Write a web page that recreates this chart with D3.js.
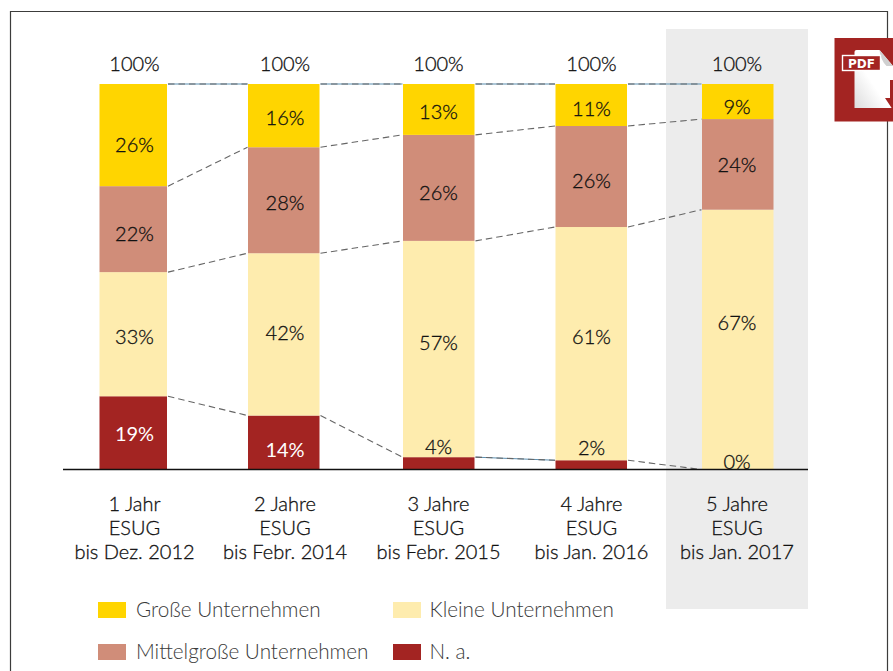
<!DOCTYPE html>
<html>
<head>
<meta charset="utf-8">
<script src="https://cdn.jsdelivr.net/npm/d3@7"></script>
<style>
  html, body { margin: 0; padding: 0; background: #fff; overflow: hidden; }
  svg { display: block; }
  text { font-family: Lato, sans-serif; }
  /* thin stroke because Lato Light is too pale and Regular too heavy */
  .val { font-size: 20px; font-weight: 300; fill: #111; stroke: #111; stroke-width: 0.3px; text-anchor: middle; }
  .tick-label { font-size: 20px; font-weight: 300; fill: #111; stroke: #111; stroke-width: 0.3px; text-anchor: middle; }
  .legend-label { font-size: 20.7px; fill: #3a3a3a; font-weight: 300; }
</style>
</head>
<body>
<div id="chart"></div>
<script>
const categories = ['1 Jahr', '2 Jahre', '3 Jahre', '4 Jahre', '5 Jahre'];
const subLabels = ['ESUG', 'ESUG', 'ESUG', 'ESUG', 'ESUG'];
const periods = ['bis Dez. 2012', 'bis Febr. 2014', 'bis Febr. 2015', 'bis Jan. 2016', 'bis Jan. 2017'];

// bar heights, they differ a bit from the printed labels
const grosse = [26.5, 16.4, 13.2, 10.9, 9.1];
const mittel = [22.3, 27.5, 27.5, 26.2, 23.5];
const kleine = [32.2, 42.1, 56.1, 60.5, 67.4];
const na = [19.0, 14.0, 3.2, 2.4, 0];

// printed labels
const grosseLabels = ['26%', '16%', '13%', '11%', '9%'];
const mittelLabels = ['22%', '28%', '26%', '26%', '24%'];
const kleineLabels = ['33%', '42%', '57%', '61%', '67%'];
const naLabels = ['19%', '14%', '4%', '2%', '0%'];
const totalLabels = ['100%', '100%', '100%', '100%', '100%'];

const seriesNames = ['Große Unternehmen', 'Mittelgroße Unternehmen', 'Kleine Unternehmen', 'N. a.'];

const width = 893, height = 671;

const seriesKeys = ['grosse', 'mittel', 'kleine', 'na'];
const colors = {grosse: '#ffd500', mittel: '#d08d79', kleine: '#feecae', na: '#a32422'};
const labelsByKey = {grosse: grosseLabels, mittel: mittelLabels, kleine: kleineLabels, na: naLabels};
const table = categories.map((c, i) => ({cat: c, grosse: grosse[i], mittel: mittel[i], kleine: kleine[i], na: na[i]}));

// label shift from the middle of its segment, px
const labelShift = {
  grosse: [10, 2.5, 2.5, 4, 5.5],
  mittel: [5, 3, 5, 4.5, 1],
  kleine: [3, -1, -6, -6.5, -17],
  na: [1.5, 7, -16, -17, -7.5]
};

// the bars are not evenly spaced in the original
const x = d3.scaleOrdinal().domain(categories).range([99.5, 248, 403, 555.5, 702]);
const barWidth = d3.scaleOrdinal().domain(categories).range([67.5, 71.5, 71.5, 71.5, 71.5]);
const labelX = d3.scaleOrdinal().domain(categories).range([134.5, 285, 438.5, 591.5, 737]);
const y = d3.scaleLinear().domain([0, 100]).range([469.5, 84]);

const stack = d3.stack().keys(seriesKeys.slice().reverse());
const stacked = stack(table);

const svg = d3.select('#chart').append('svg')
    .attr('width', width)
    .attr('height', height);

// outer frame, runs off the bottom of the page
svg.append('path')
    .attr('d', 'M10.5,671V11.5H887.5V671')
    .attr('fill', 'none')
    .attr('stroke', '#3c3c3b')
    .attr('stroke-width', 1.2);

// highlight behind the last year
svg.append('rect')
    .attr('x', 666).attr('y', 29)
    .attr('width', 142).attr('height', 580)
    .attr('fill', '#ececec');

// bars
const layers = svg.selectAll('.layer')
    .data(stacked)
  .join('g')
    .attr('class', 'layer')
    .attr('fill', d => colors[d.key]);

layers.selectAll('rect')
    .data(d => d)
  .join('rect')
    .attr('x', d => x(d.data.cat))
    .attr('width', d => barWidth(d.data.cat))
    .attr('y', d => y(d[1]))
    .attr('height', d => y(d[0]) - y(d[1]));

// dashed connectors between the segment tops
const connector = d3.line();
const blueUnder = {grosse: [0, 1, 2, 3], na: [2]};
stacked.forEach(layer => {
  d3.pairs(layer).forEach(([a, b], i) => {
    const pts = [
      [x(a.data.cat) + barWidth(a.data.cat) + 1, y(a[1])],
      [x(b.data.cat) - 0.5, y(b[1])]
    ];
    if ((blueUnder[layer.key] || []).includes(i)) {
      svg.append('path')
          .attr('d', connector(pts))
          .attr('fill', 'none')
          .attr('stroke', '#5b8fb0')
          .attr('stroke-width', 1);
    }
    svg.append('path')
        .attr('d', connector(pts))
        .attr('fill', 'none')
        .attr('stroke', '#666')
        .attr('stroke-width', 1.1)
        .attr('stroke-dasharray', '6.5,4');
  });
});

// baseline
svg.append('line')
    .attr('x1', 63).attr('x2', 808)
    .attr('y1', 469.5).attr('y2', 469.5)
    .attr('stroke', '#111')
    .attr('stroke-width', 1.4);

// value labels
stacked.forEach(layer => {
  svg.selectAll('.val-' + layer.key)
      .data(layer)
    .join('text')
      .attr('class', 'val val-' + layer.key)
      .attr('x', d => labelX(d.data.cat))
      .attr('y', (d, i) => (y(d[0]) + y(d[1])) / 2 + labelShift[layer.key][i])
      .attr('dy', '.35em')
      .style('fill', (d, i) => layer.key === 'na' && i < 2 ? '#fff' : null)
      .style('stroke', (d, i) => layer.key === 'na' && i < 2 ? 'none' : null)
      .style('font-weight', (d, i) => layer.key === 'na' && i < 2 ? 400 : null)
      .text((d, i) => labelsByKey[layer.key][i]);
});

svg.selectAll('.total')
    .data(categories)
  .join('text')
    .attr('class', 'val total')
    .attr('x', d => labelX(d))
    .attr('y', 64)
    .attr('dy', '.35em')
    .text((d, i) => totalLabels[i]);

// category labels, three lines each
const tickG = svg.selectAll('.tick-label')
    .data(categories)
  .join('text')
    .attr('class', 'tick-label')
    .attr('y', 511);

tickG.selectAll('tspan')
    .data((d, i) => [d, subLabels[i], periods[i]].map(t => ({t, cat: d})))
  .join('tspan')
    .attr('x', d => labelX(d.cat))
    .attr('dy', (d, i) => i === 0 ? 0 : 24)
    .text(d => d.t);

// legend
const legendX = d3.scaleOrdinal().domain(seriesKeys).range([98, 98, 393, 393]);
const legendY = d3.scaleOrdinal().domain(seriesKeys).range([602, 644, 602, 644]);

const legend = svg.selectAll('.legend-item')
    .data(seriesKeys)
  .join('g')
    .attr('class', 'legend-item')
    .attr('transform', d => `translate(${legendX(d)},${legendY(d)})`);

legend.append('rect')
    .attr('width', 28)
    .attr('height', 16)
    .attr('fill', d => colors[d]);

legend.append('text')
    .attr('class', 'legend-label')
    .attr('x', d => legendX(d) === 98 ? 38 : 36.5)
    .attr('y', 15)
    .text((d, i) => seriesNames[i]);

// pdf icon in the corner
const defs = svg.append('defs');
const pageGrad = defs.append('linearGradient')
    .attr('id', 'pageGrad')
    .attr('x1', 0).attr('y1', 1).attr('x2', 1).attr('y2', 0);
pageGrad.append('stop').attr('offset', 0).attr('stop-color', '#dcdcdc');
pageGrad.append('stop').attr('offset', 0.45).attr('stop-color', '#ffffff');

const icon = svg.append('g').attr('transform', 'translate(834.5,38)');
icon.append('rect').attr('width', 58.5).attr('height', 83.5).attr('fill', '#a32422');
icon.append('path')
    .attr('d', 'M20,14Q20,12 22,12H45L58.5,28V70H20Z')
    .attr('fill', 'url(#pageGrad)');
icon.append('path')
    .attr('d', 'M45,12L58.5,28H52Q46,22 45,12Z')
    .attr('fill', '#d0d0d0');
icon.append('path')
    .attr('d', 'M55.5,42H58.5V72L50.5,60H55.5Z')
    .attr('fill', '#a32422');
icon.append('rect')
    .attr('x', 8).attr('y', 17.5)
    .attr('width', 38).attr('height', 15)
    .attr('fill', '#a32422')
    .attr('stroke', '#fff')
    .attr('stroke-width', 1.4);
icon.append('text')
    .attr('x', 27).attr('y', 30)
    .attr('text-anchor', 'middle')
    .attr('fill', '#fff')
    .style('font-family', '"DejaVu Sans", sans-serif')
    .style('font-weight', 700)
    .style('font-size', '12px')
    .text('PDF');
</script>
</body>
</html>
